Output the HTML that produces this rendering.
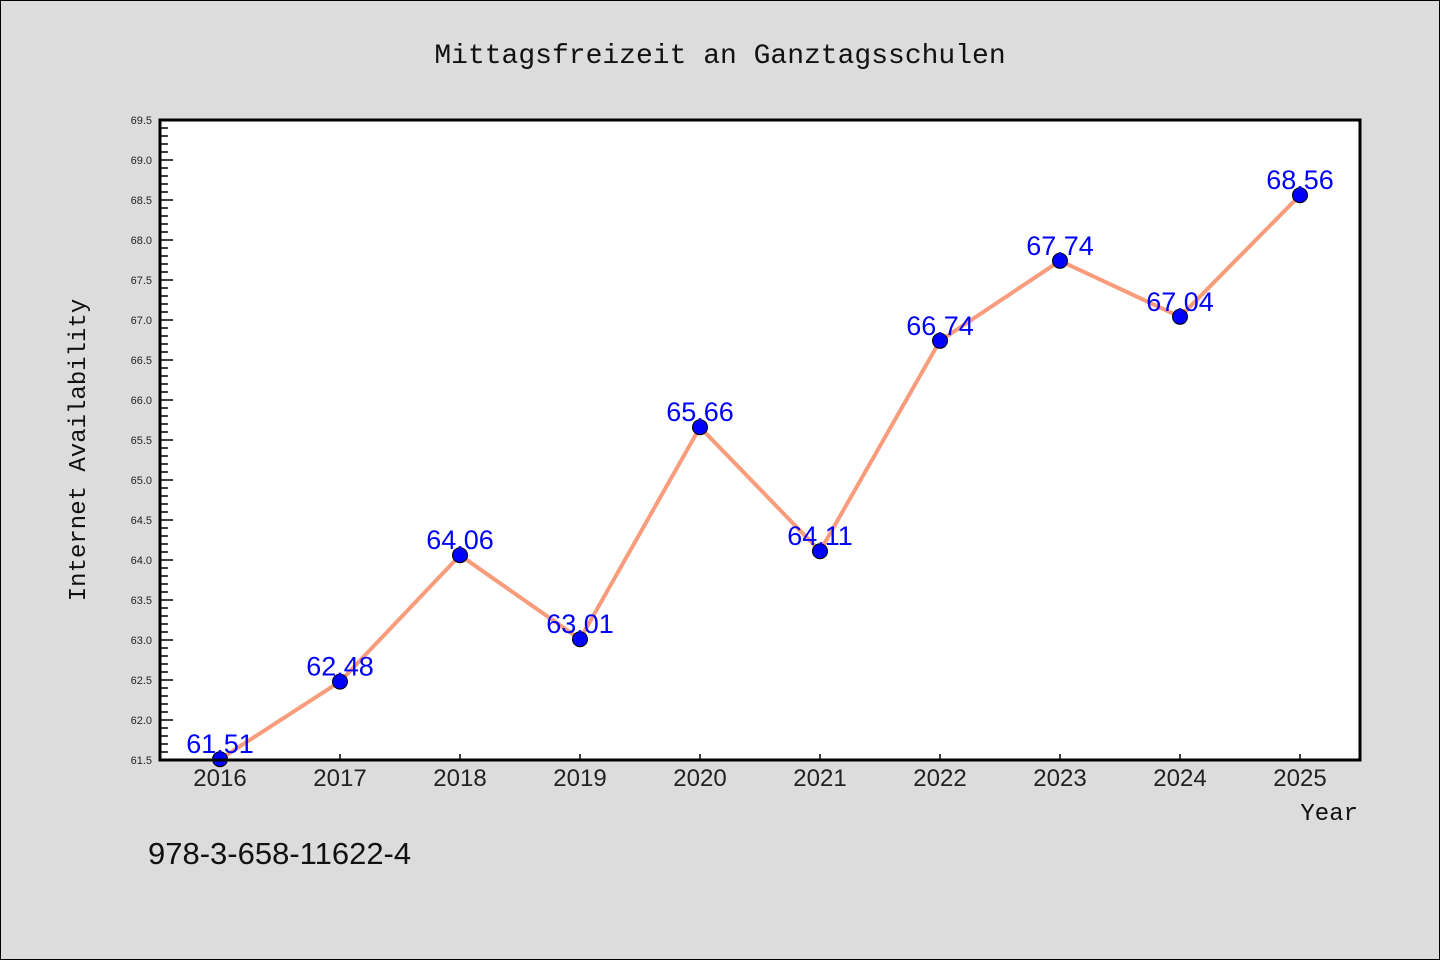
<!DOCTYPE html>
<html><head><meta charset="utf-8"><style>
body{margin:0;background:#dcdcdc}
svg{display:block}
text{font-family:"Liberation Mono","DejaVu Sans Mono",monospace}
</style></head><body>
<svg id="c" width="1440" height="960" xmlns="http://www.w3.org/2000/svg">
<rect x="0.5" y="0.5" width="1439" height="959" fill="#dcdcdc" stroke="#000"/>
<text x="720" y="63" text-anchor="middle" font-size="28" fill="#111">Mittagsfreizeit an Ganztagsschulen</text>
<rect x="160" y="120" width="1200" height="640" fill="#fff"/>
<g id="axes"></g>
<g id="marks"></g>
<rect x="160" y="120" width="1200" height="640" fill="none" stroke="#000" stroke-width="3"/>
<text transform="translate(85,450) rotate(-90)" text-anchor="middle" font-size="24" fill="#111">Internet Availability</text>
<text x="1358" y="820" text-anchor="end" font-size="24" fill="#111">Year</text>
<text x="148" y="864" font-family="Liberation Sans,sans-serif" font-size="31" fill="#111" style="font-family:'Liberation Sans',sans-serif">978-3-658-11622-4</text>
</svg>
<script>
const years=[2016,2017,2018,2019,2020,2021,2022,2023,2024,2025];
const values=[61.51,62.48,64.06,63.01,65.66,64.11,66.74,67.74,67.04,68.56];
const yTicks=["61.5","62.0","62.5","63.0","63.5","64.0","64.5","65.0","65.5","66.0","66.5","67.0","67.5","68.0","68.5","69.0","69.5"];
const NS="http://www.w3.org/2000/svg";
const yMin=61.5,yMax=69.5,L=160,R=1360,T=120,B=760;
const x=i=>L+60+i*(R-L-120)/(years.length-1);
const y=v=>B-(v-yMin)/(yMax-yMin)*(B-T);
function mk(t,a,p){const e=document.createElementNS(NS,t);for(const k in a)e.setAttribute(k,a[k]);p.appendChild(e);return e;}
const ax=document.getElementById('axes'),mg=document.getElementById('marks');
for(let k=0;k<=80;k++){const v=yMin+k*0.1;const major=k%5===0;
 const l=mk('line',{x1:L,x2:L+(major?13:8),y1:y(v),y2:y(v),stroke:'#000','stroke-width':1.5},ax);
 
 }
yTicks.forEach(s=>{const t=mk('text',{x:L-8,y:y(+s)+4,'text-anchor':'end','font-size':11,fill:'#222',style:"font-family:'Liberation Sans',sans-serif"},ax);t.textContent=s;
 
 });
years.forEach((yr,i)=>{const l=mk('line',{x1:x(i),x2:x(i),y1:B,y2:B-6,stroke:'#000','stroke-width':1.5},ax);
 
 
 const t=mk('text',{x:x(i),y:B+26,'text-anchor':'middle','font-size':24,fill:'#222',style:"font-family:'Liberation Sans',sans-serif"},ax);t.textContent=yr;
 
 });
const pl=mk('polyline',{points:values.map((v,i)=>x(i)+','+y(v)).join(' '),fill:'none',stroke:'#f89c7c','stroke-width':4,'stroke-linejoin':'round'},mg);


values.forEach((v,i)=>{const c=mk('circle',{cx:x(i),cy:y(v),r:7.5,fill:'#0000ff',stroke:'#000','stroke-width':1},mg);
 
 
 const t=mk('text',{x:x(i),y:y(v)-6,'text-anchor':'middle','font-size':27,fill:'#0000ff',style:"font-family:'Liberation Sans',sans-serif"},mg);t.textContent=v.toFixed(2);
 
 });
</script>
</body></html>
